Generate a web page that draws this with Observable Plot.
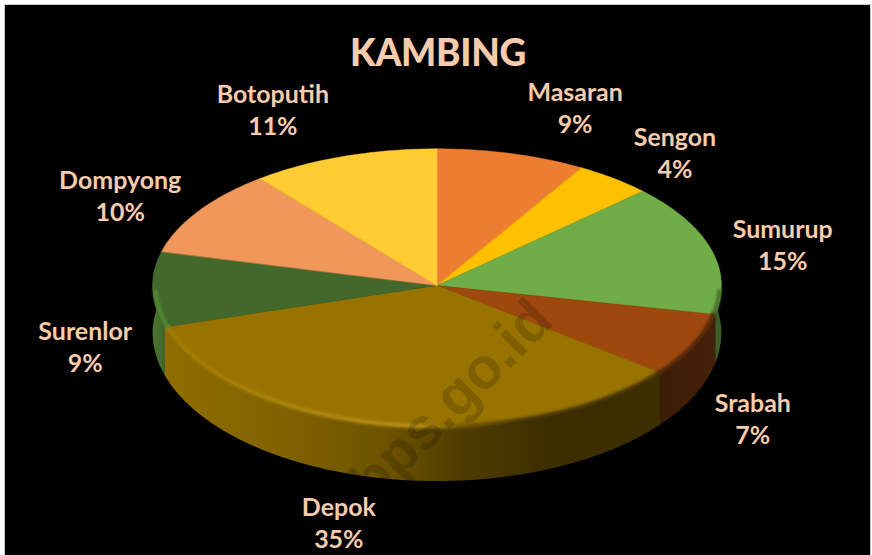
<!DOCTYPE html>
<html>
<head>
<meta charset="utf-8">
<script src="https://cdn.jsdelivr.net/npm/d3@7"></script>
<script src="https://cdn.jsdelivr.net/npm/@observablehq/plot@0.6"></script>
<style>
  html, body { margin: 0; padding: 0; background: #fff; overflow: hidden; }
  #panel { position: absolute; left: 5px; top: 5px; width: 865px; height: 550px; background: #000; outline: 1px solid #c8c8c8; overflow: hidden; }
  #title { position: absolute; left: -5px; top: 0; width: 876px; height: 73px; text-align: center;
           color: #F8CBAD; font: 900 37px/93px Lato, sans-serif; letter-spacing: -0.3px; }
  #chart { position: absolute; left: -5px; top: 73px; }
  svg { display: block; background: transparent; }
</style>
</head>
<body>
<div id="panel">
  <div id="title">KAMBING</div>
  <div id="chart"></div>
</div>
<script>
const titleText = "KAMBING";
const names = ["Masaran", "Sengon", "Sumurup", "Srabah", "Depok", "Surenlor", "Dompyong", "Botoputih"];
const labelPercents = [9, 4, 15, 7, 35, 9, 10, 11];
const shares = [8.5, 4.4, 15.4, 7.3, 34.7, 8.7, 10.3, 10.7];
const topColors = ["#ED7D31", "#FFC000", "#70AD47", "#9E480E", "#997300", "#43682B", "#F1975A", "#FFCD33"];
const watermark = "bps.go.id";

// Layout only: where each label sits, in pie units (1 = rim radius).
const labelX = [0.484, 0.835, 1.214, 1.109, -0.347, -1.239, -1.116, -0.579];
const labelY = [1.309, 0.981, 0.309, -0.961, -1.727, -0.436, 0.667, 1.294];

const frontStretch = 142 / 137;      // the near half of the disc looks larger
const unitPx = 137;
const rad = Math.PI / 180;

function rimX(a) { return Math.sin(a * rad); }
function rimY(a) { const c = Math.cos(a * rad); return c < 0 ? c * frontStretch : c; }
function wallDepth(a) { const c = Math.cos(a * rad); return (47 + 7 * Math.max(0, -c)) / unitPx; }

// Angular spans from the shares
let running = 0;
const spans = names.map((name, i) => {
  const a0 = running / 100 * 360;
  running += shares[i];
  return { name, a0, a1: running / 100 * 360 };
});

function sweep(a0, a1) {
  const out = [];
  const n = Math.max(1, Math.ceil(a1 - a0));
  for (let k = 0; k <= n; k++) out.push(a0 + (a1 - a0) * k / n);
  return out;
}

const faceRows = spans.flatMap(s => sweep(s.a0, s.a1).map(a => ({ name: s.name, x: rimX(a), y: rimY(a) })));

function frontRows(s, lo, hi) {
  const a0 = Math.max(s.a0, lo), a1 = Math.min(s.a1, hi);
  if (a1 <= a0) return [];
  return sweep(a0, a1).map(a => ({ name: s.name, x: rimX(a), y: rimY(a), y2: rimY(a) - wallDepth(a), xIn: rimX(a) * 0.992, yIn: rimY(a) * 0.992 }));
}

const wallFill = {
  Sumurup: "url(#wallSumurup)", Srabah: "url(#wallSrabah)", Depok: "url(#wallDepok)", Surenlor: "url(#wallSurenlor)"
};
const rimStroke = { Sumurup: "#44692b", Srabah: "#4a230a", Depok: "url(#rimDepok)", Surenlor: "#558a37" };

const gradients = {
  wallSumurup: [[0, "#3f6228"], [1, "#3a5a24"]],
  wallSrabah: [[0, "#3d1d08"], [1, "#45200a"]],
  wallSurenlor: [[0, "#4b7530"], [1, "#426529"]],
  wallDepok: [[0, "#8f6d00"], [0.22, "#826300"], [0.45, "#6d5300"], [0.6, "#4f3c00"], [0.78, "#3d2e00"], [1, "#3d2e00"]],
  rimDepok: [[0, "#a37d00"], [0.25, "#ad870c"], [0.5, "#b8921a"], [0.6, "#6f5500"], [0.72, "#3d2e00"], [1, "#3d2e00"]]
};

function defsMark() {
  const defs = d3.create("svg:defs");
  for (const [id, stops] of Object.entries(gradients)) {
    const g = defs.append("linearGradient").attr("id", id).attr("x1", 0).attr("x2", 1).attr("y1", 0).attr("y2", 0);
    for (const [o, c] of stops) g.append("stop").attr("offset", o).attr("stop-color", c);
  }
  return defs.node();
}

const wallMarks = spans.flatMap(s => {
  const rows = frontRows(s, 78, 282);
  return rows.length ? [Plot.area(rows, { x1: "x", y1: "y", x2: "x", y2: "y2", fill: wallFill[s.name], curve: "linear" })] : [];
});
const rimMarks = spans.flatMap(s => {
  const rows = frontRows(s, 92, 268);
  return rows.length ? [Plot.line(rows, { x: "xIn", y: "yIn", stroke: rimStroke[s.name], strokeWidth: 4, imageFilter: "blur(1.5px)", curve: "linear" })] : [];
});

const labelRows = names.map((name, i) => ({ text: `${name}\n${labelPercents[i]}%`, x: labelX[i], y: labelY[i] }));

document.getElementById("title").textContent = titleText;

const chart = Plot.plot({
  width: 872,
  height: 477,
  margin: 0,
  axis: null,
  style: { background: "transparent", overflow: "visible" },
  x: { domain: [-1, 1], range: [153, 723] },
  y: { domain: [1, -1], range: [71, 345] },
  color: { domain: names, range: topColors },
  marks: [
    defsMark,
    ...wallMarks,
    Plot.area(faceRows, { x1: 0, y1: 0, x2: "x", y2: "y", fill: "name", stroke: "name", strokeWidth: 0.5, z: "name", curve: "linear" }),
    ...rimMarks,
    Plot.text([watermark], { frameAnchor: "top-left", dx: 436, dy: 307, rotate: -45, fill: "#000", fillOpacity: 0.17, fontSize: 58, fontWeight: "bold", fontFamily: "'Liberation Sans', sans-serif", textAnchor: "middle" }),
    Plot.text(labelRows, { x: "x", y: "y", text: "text", fill: "#F8CBAD", fontSize: 25, fontWeight: "bold", fontFamily: "Lato, sans-serif", lineHeight: 1.28, textAnchor: "middle" })
  ]
});
document.getElementById("chart").appendChild(chart);
</script>
</body>
</html>
